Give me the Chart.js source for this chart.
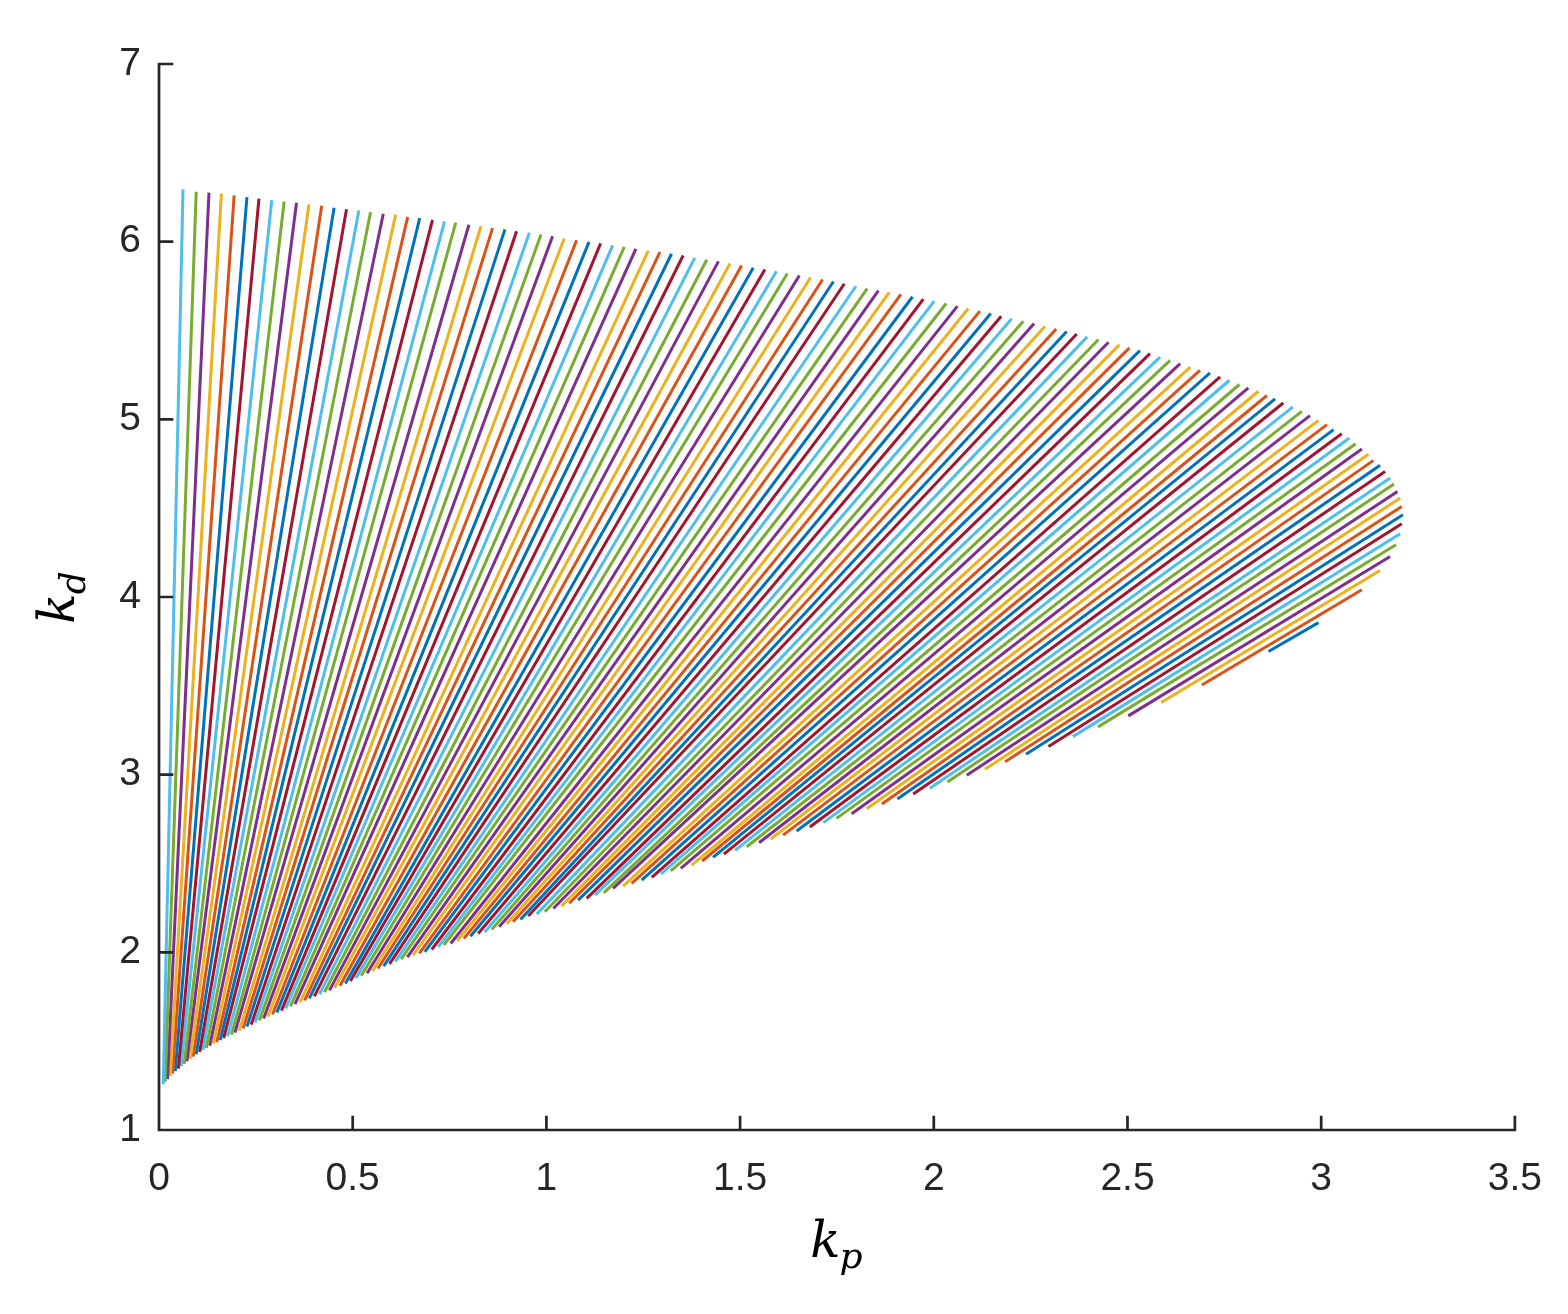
<!DOCTYPE html>
<html>
<head>
<meta charset="utf-8">
<title>kp - kd</title>
<script src="https://cdn.jsdelivr.net/npm/chart.js@4.4.1/dist/chart.umd.min.js"></script>
<style>
  html, body { margin: 0; padding: 0; background: #ffffff; }
  #wrap { width: 1568px; height: 1314px; }
</style>
</head>
<body>
<div id="wrap"><canvas id="kpkdChart" width="1568" height="1314"></canvas></div>
<script>
// --- Datos: 125 segmentos (inicio sobre la frontera inferior, fin sobre la superior) ---
const kpStart = [2.864, 2.692, 2.587, 2.502, 2.424, 2.359, 2.296, 2.238, 2.184, 2.132,
    2.085, 2.035, 1.990, 1.947, 1.906, 1.866, 1.827, 1.788, 1.749, 1.715,
    1.680, 1.646, 1.611, 1.579, 1.549, 1.517, 1.487, 1.458, 1.430, 1.402,
    1.375, 1.347, 1.321, 1.296, 1.272, 1.246, 1.220, 1.198, 1.172, 1.148,
    1.125, 1.104, 1.082, 1.059, 1.039, 1.018, 0.996, 0.975, 0.953, 0.933,
    0.914, 0.897, 0.878, 0.859, 0.841, 0.824, 0.804, 0.787, 0.770, 0.753,
    0.735, 0.721, 0.704, 0.686, 0.672, 0.656, 0.641, 0.625, 0.610, 0.595,
    0.580, 0.565, 0.551, 0.537, 0.522, 0.508, 0.494, 0.481, 0.467, 0.453,
    0.440, 0.427, 0.414, 0.401, 0.388, 0.376, 0.364, 0.351, 0.339, 0.327,
    0.316, 0.304, 0.293, 0.281, 0.270, 0.259, 0.248, 0.238, 0.227, 0.217,
    0.207, 0.196, 0.187, 0.177, 0.167, 0.158, 0.149, 0.140, 0.131, 0.122,
    0.113, 0.105, 0.096, 0.088, 0.080, 0.072, 0.065, 0.057, 0.050, 0.042,
    0.035, 0.029, 0.022, 0.016, 0.011];
const kdStart = [3.693, 3.505, 3.406, 3.331, 3.269, 3.214, 3.159, 3.115, 3.073, 3.030,
    2.997, 2.959, 2.923, 2.891, 2.863, 2.835, 2.808, 2.780, 2.754, 2.730,
    2.705, 2.683, 2.660, 2.638, 2.617, 2.594, 2.574, 2.553, 2.534, 2.514,
    2.491, 2.473, 2.459, 2.441, 2.422, 2.407, 2.388, 2.373, 2.360, 2.335,
    2.322, 2.304, 2.294, 2.276, 2.260, 2.247, 2.228, 2.215, 2.204, 2.185,
    2.172, 2.159, 2.144, 2.129, 2.115, 2.106, 2.091, 2.078, 2.065, 2.050,
    2.041, 2.031, 2.016, 2.003, 1.994, 1.984, 1.973, 1.962, 1.948, 1.935,
    1.922, 1.909, 1.895, 1.882, 1.868, 1.854, 1.839, 1.825, 1.812, 1.799,
    1.786, 1.775, 1.763, 1.752, 1.741, 1.730, 1.719, 1.708, 1.696, 1.684,
    1.672, 1.661, 1.650, 1.638, 1.628, 1.617, 1.605, 1.593, 1.582, 1.571,
    1.559, 1.548, 1.537, 1.527, 1.517, 1.506, 1.495, 1.486, 1.474, 1.462,
    1.450, 1.439, 1.426, 1.413, 1.399, 1.386, 1.372, 1.359, 1.345, 1.331,
    1.317, 1.304, 1.286, 1.272, 1.257];
const kpEnd = [2.993, 3.105, 3.152, 3.178, 3.193, 3.204, 3.208, 3.211, 3.208, 3.204,
    3.197, 3.188, 3.178, 3.165, 3.152, 3.135, 3.122, 3.105, 3.089, 3.073,
    3.053, 3.032, 3.015, 2.993, 2.971, 2.950, 2.927, 2.902, 2.881, 2.860,
    2.838, 2.812, 2.789, 2.763, 2.739, 2.713, 2.687, 2.662, 2.636, 2.610,
    2.584, 2.558, 2.532, 2.505, 2.479, 2.451, 2.425, 2.396, 2.369, 2.343,
    2.316, 2.287, 2.259, 2.231, 2.201, 2.174, 2.147, 2.119, 2.089, 2.061,
    2.032, 2.001, 1.973, 1.945, 1.915, 1.885, 1.857, 1.828, 1.799, 1.769,
    1.741, 1.713, 1.682, 1.653, 1.622, 1.594, 1.564, 1.534, 1.504, 1.474,
    1.444, 1.414, 1.383, 1.353, 1.323, 1.293, 1.263, 1.231, 1.201, 1.171,
    1.140, 1.110, 1.078, 1.046, 1.016, 0.986, 0.956, 0.923, 0.893, 0.861,
    0.831, 0.800, 0.766, 0.737, 0.706, 0.673, 0.642, 0.611, 0.579, 0.546,
    0.516, 0.484, 0.452, 0.420, 0.387, 0.355, 0.323, 0.291, 0.258, 0.227,
    0.194, 0.161, 0.129, 0.096, 0.062];
const kdEnd = [3.856, 4.041, 4.149, 4.228, 4.294, 4.356, 4.412, 4.463, 4.510, 4.557,
    4.594, 4.636, 4.670, 4.707, 4.741, 4.769, 4.803, 4.833, 4.863, 4.895,
    4.919, 4.942, 4.970, 4.994, 5.021, 5.045, 5.070, 5.092, 5.115, 5.134,
    5.158, 5.177, 5.196, 5.220, 5.239, 5.261, 5.276, 5.294, 5.314, 5.332,
    5.350, 5.370, 5.387, 5.402, 5.419, 5.434, 5.449, 5.464, 5.480, 5.494,
    5.508, 5.524, 5.539, 5.552, 5.566, 5.580, 5.596, 5.609, 5.624, 5.637,
    5.652, 5.665, 5.677, 5.690, 5.703, 5.714, 5.725, 5.736, 5.749, 5.763,
    5.776, 5.787, 5.798, 5.810, 5.821, 5.834, 5.843, 5.853, 5.866, 5.877,
    5.889, 5.898, 5.909, 5.922, 5.932, 5.941, 5.950, 5.960, 5.971, 5.979,
    5.990, 5.999, 6.008, 6.018, 6.031, 6.041, 6.050, 6.059, 6.069, 6.076,
    6.087, 6.095, 6.107, 6.114, 6.123, 6.132, 6.140, 6.152, 6.157, 6.166,
    6.176, 6.183, 6.191, 6.202, 6.210, 6.219, 6.225, 6.234, 6.242, 6.251,
    6.260, 6.270, 6.276, 6.281, 6.294];

// --- Ejes ---
const xTicks = [0, 0.5, 1, 1.5, 2, 2.5, 3, 3.5];
const xTickLabels = ['0', '0.5', '1', '1.5', '2', '2.5', '3', '3.5'];
const yTicks = [1, 2, 3, 4, 5, 6, 7];
const yTickLabels = ['1', '2', '3', '4', '5', '6', '7'];

// colores por defecto de MATLAB (orden de dibujo)
const lineColors = ['#0072BD', '#D95319', '#EDB120', '#7E2F8E', '#77AC30', '#4DBEEE', '#A2142F'];
const axisColor = '#262626';
const tickFont = { family: '"Liberation Sans", Arial, sans-serif', size: 39 };

// --- Plugin: ejes estilo MATLAB (sin caja, ticks hacia adentro) y etiquetas k_p, k_d ---
function drawSubscripted(ctx, base, sub, cx, cy) {
    const bigFont = 'italic 50px "DejaVu Serif", "Liberation Serif", serif';
    const smallFont = 'italic 36px "DejaVu Serif", "Liberation Serif", serif';
    ctx.font = bigFont;
    const wBase = ctx.measureText(base).width;
    ctx.font = smallFont;
    const wSub = ctx.measureText(sub).width;
    const x0 = cx - (wBase + wSub) / 2;
    ctx.textBaseline = 'alphabetic';
    ctx.textAlign = 'left';
    ctx.font = bigFont;
    ctx.fillText(base, x0, cy);
    ctx.font = smallFont;
    ctx.fillText(sub, x0 + wBase - 1, cy + 11);
}

const matlabAxes = {
    id: 'matlabAxes',
    afterDraw(chart) {
        const ctx = chart.ctx;
        const xs = chart.scales.x;
        const ys = chart.scales.y;
        const area = chart.chartArea;
        ctx.save();
        ctx.strokeStyle = axisColor;
        ctx.fillStyle = axisColor;
        ctx.lineWidth = 2.7;
        ctx.lineCap = 'square';
        ctx.beginPath();
        ctx.moveTo(area.left, area.top);
        ctx.lineTo(area.left, area.bottom);
        ctx.lineTo(area.right, area.bottom);
        xTicks.forEach(v => {
            const px = xs.getPixelForValue(v);
            ctx.moveTo(px, area.bottom);
            ctx.lineTo(px, area.bottom - 13);
        });
        yTicks.forEach(v => {
            const py = ys.getPixelForValue(v);
            ctx.moveTo(area.left, py);
            ctx.lineTo(area.left + 13, py);
        });
        ctx.stroke();
        // titulos de ejes
        ctx.fillStyle = '#000000';
        drawSubscripted(ctx, 'k', 'p', (area.left + area.right) / 2, 1257);
        ctx.translate(74, (area.top + area.bottom) / 2);
        ctx.rotate(-Math.PI / 2);
        drawSubscripted(ctx, 'k', 'd', 0, 0);
        ctx.restore();
    }
};

// --- Construye los datasets (uno por segmento) ---
const datasets = [];
for (let i = 0; i < kpStart.length; i++) {
    datasets.push({
        data: [{ x: kpStart[i], y: kdStart[i] }, { x: kpEnd[i], y: kdEnd[i] }],
        showLine: true,
        borderColor: lineColors[i % lineColors.length],
        borderWidth: 3,
        pointRadius: 0,
        fill: false,
        order: kpStart.length - i
    });
}

const ctx = document.getElementById('kpkdChart').getContext('2d');
new Chart(ctx, {
    type: 'scatter',
    data: { datasets },
    plugins: [matlabAxes],
    options: {
        responsive: false,
        animation: false,
        events: [],
        layout: { padding: { top: 64, right: 53, left: 0, bottom: 0 } },
        plugins: { legend: { display: false }, tooltip: { enabled: false } },
        scales: {
            x: {
                type: 'linear',
                min: 0,
                max: 3.5,
                afterBuildTicks: s => { s.ticks = xTicks.map(v => ({ value: v })); },
                afterFit: s => { s.height = 184; },
                grid: { display: false, drawTicks: false },
                border: { display: false },
                ticks: {
                    callback: (v, i) => xTickLabels[i],
                    font: tickFont,
                    color: axisColor,
                    padding: 26,
                    maxRotation: 0,
                    autoSkip: false
                }
            },
            y: {
                type: 'linear',
                min: 1,
                max: 7,
                afterBuildTicks: s => { s.ticks = yTicks.map(v => ({ value: v })); },
                afterFit: s => { s.width = 159; },
                grid: { display: false, drawTicks: false },
                border: { display: false },
                ticks: {
                    callback: (v, i) => yTickLabels[i],
                    font: tickFont,
                    color: axisColor,
                    padding: 18,
                    autoSkip: false
                }
            }
        }
    }
});
</script>
</body>
</html>
